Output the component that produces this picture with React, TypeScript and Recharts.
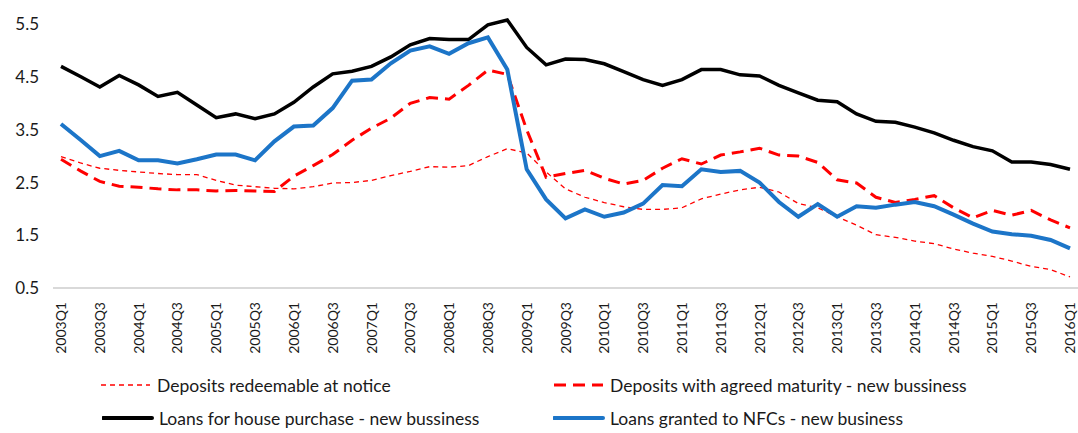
import { LineChart, Line, XAxis, YAxis, Legend } from "recharts";

const QUARTERS = [
  "2003Q1", "2003Q2", "2003Q3", "2003Q4", "2004Q1", "2004Q2", "2004Q3", "2004Q4",
  "2005Q1", "2005Q2", "2005Q3", "2005Q4", "2006Q1", "2006Q2", "2006Q3", "2006Q4",
  "2007Q1", "2007Q2", "2007Q3", "2007Q4", "2008Q1", "2008Q2", "2008Q3", "2008Q4",
  "2009Q1", "2009Q2", "2009Q3", "2009Q4", "2010Q1", "2010Q2", "2010Q3", "2010Q4",
  "2011Q1", "2011Q2", "2011Q3", "2011Q4", "2012Q1", "2012Q2", "2012Q3", "2012Q4",
  "2013Q1", "2013Q2", "2013Q3", "2013Q4", "2014Q1", "2014Q2", "2014Q3", "2014Q4",
  "2015Q1", "2015Q2", "2015Q3", "2015Q4", "2016Q1",
];

const NOTICE = [
  2.99, 2.87, 2.77, 2.73, 2.7, 2.67, 2.65, 2.65, 2.54, 2.45, 2.42, 2.39, 2.38, 2.42,
  2.49, 2.5, 2.54, 2.63, 2.71, 2.8, 2.79, 2.82, 2.99, 3.14, 3.06, 2.7, 2.38, 2.22,
  2.12, 2.04, 1.99, 1.99, 2.02, 2.19, 2.28, 2.36, 2.41, 2.32, 2.1, 2.02, 1.85, 1.69,
  1.51, 1.46, 1.39, 1.34, 1.24, 1.16, 1.1, 1.01, 0.91, 0.85, 0.71,
];

const MATURITY = [
  2.94, 2.72, 2.52, 2.43, 2.41, 2.38, 2.36, 2.36, 2.34, 2.35, 2.34, 2.33, 2.62, 2.82,
  3.03, 3.3, 3.53, 3.72, 4.0, 4.11, 4.08, 4.34, 4.63, 4.55, 3.5, 2.6, 2.67, 2.73,
  2.58, 2.47, 2.54, 2.77, 2.95, 2.85, 3.02, 3.08, 3.15, 3.02, 3.0, 2.88, 2.55, 2.49,
  2.22, 2.12, 2.18, 2.25, 2.02, 1.83, 1.97, 1.88, 1.97, 1.79, 1.64,
];

const HOUSE = [
  4.7, 4.51, 4.31, 4.53, 4.35, 4.13, 4.21, 3.97, 3.73, 3.8, 3.71, 3.8, 4.02, 4.31,
  4.56, 4.61, 4.7, 4.88, 5.11, 5.23, 5.21, 5.21, 5.49, 5.58, 5.06, 4.73, 4.84, 4.83,
  4.75, 4.6, 4.45, 4.34, 4.45, 4.64, 4.64, 4.54, 4.52, 4.34, 4.2, 4.06, 4.03, 3.8,
  3.66, 3.64, 3.55, 3.44, 3.3, 3.18, 3.1, 2.89, 2.89, 2.84, 2.75,
];

const NFC = [
  3.61, 3.31, 3.0, 3.1, 2.92, 2.92, 2.86, 2.94, 3.03, 3.03, 2.92, 3.28, 3.56, 3.58,
  3.91, 4.43, 4.45, 4.76, 5.0, 5.08, 4.94, 5.14, 5.25, 4.64, 2.75, 2.18, 1.82, 1.99,
  1.85, 1.93, 2.1, 2.45, 2.43, 2.75, 2.7, 2.72, 2.5, 2.13, 1.85, 2.09, 1.85, 2.05,
  2.02, 2.08, 2.13, 2.05, 1.89, 1.72, 1.57, 1.52, 1.49, 1.41, 1.25,
];

const Y_TICKS = [0.5, 1.5, 2.5, 3.5, 4.5, 5.5];

const data = QUARTERS.map((q, i) => ({
  q,
  notice: NOTICE[i],
  maturity: MATURITY[i],
  house: HOUSE[i],
  nfc: NFC[i],
}));

const FONT = "Lato, 'Liberation Sans', sans-serif";
const RED = "#ff0000";
const BLUE = "#1c75c8";

const legendItems = [
  { label: "Deposits redeemable at notice", color: RED, width: 1.5, dash: "5 4", left: 100, top: 17 },
  { label: "Deposits with agreed maturity - new bussiness", color: RED, width: 3, dash: "12 7", left: 553, top: 17 },
  { label: "Loans for house purchase - new bussiness", color: "#000", width: 4, dash: undefined, left: 102, top: 50 },
  { label: "Loans granted to NFCs - new business", color: BLUE, width: 4, dash: undefined, left: 553, top: 50 },
];

function renderLegend() {
  return (
    <div style={{ position: "relative", width: 1078, height: 65, fontFamily: FONT }}>
      {legendItems.map((it) => (
        <div
          key={it.label}
          style={{
            position: "absolute",
            left: it.left,
            top: it.top - 12,
            height: 24,
            display: "flex",
            alignItems: "center",
            whiteSpace: "nowrap",
          }}
        >
          <svg width={52} height={10}>
            <line x1={1} y1={5} x2={50} y2={5} stroke={it.color} strokeWidth={it.width}
              strokeDasharray={it.dash} strokeLinecap={it.dash ? "butt" : "round"} />
          </svg>
          <span style={{ fontSize: 17.5, color: "#1a1a1a", marginLeft: 5 }}>{it.label}</span>
        </div>
      ))}
    </div>
  );
}

function QuarterTick({ x, y, payload }: any) {
  return (
    <g transform={`translate(${x},${y + 6})`}>
      <text x={0} y={0} dy="0.36em" transform="rotate(-90)" textAnchor="end"
        fontSize={14} fontFamily={FONT} fill="#1a1a1a">
        {payload.value}
      </text>
    </g>
  );
}

export default function App() {
  return (
    <div style={{ position: "absolute", left: 0, top: 0, background: "#fff" }}>
      <LineChart width={1078} height={433} data={data}
        margin={{ top: 20, right: 0, left: 0, bottom: 0 }}>
        <XAxis dataKey="q" interval={1} tickLine={false}
          axisLine={{ stroke: "#d9d9d9", strokeWidth: 2 }}
          padding={{ left: 8, right: 8 }} height={80} tick={<QuarterTick />} />
        <YAxis domain={[0.5, 5.5]} ticks={Y_TICKS} width={53} axisLine={false}
          tickLine={false} tickMargin={8}
          tickFormatter={(v: number) => v.toFixed(1)}
          tick={{ fontSize: 17, fontFamily: FONT, fill: "#1a1a1a" }} />
        <Legend verticalAlign="bottom" content={renderLegend}
          wrapperStyle={{ left: 0, top: 368, width: 1078, height: 65 }} />
        <Line type="linear" dataKey="notice" stroke={RED} strokeWidth={1.3}
          strokeDasharray="5 4" dot={false} isAnimationActive={false} />
        <Line type="linear" dataKey="maturity" stroke={RED} strokeWidth={3}
          strokeDasharray="12 7" dot={false} isAnimationActive={false} />
        <Line type="linear" dataKey="house" stroke="#000" strokeWidth={3.5}
          dot={false} isAnimationActive={false} />
        <Line type="linear" dataKey="nfc" stroke={BLUE} strokeWidth={4}
          dot={false} isAnimationActive={false} />
      </LineChart>
    </div>
  );
}
